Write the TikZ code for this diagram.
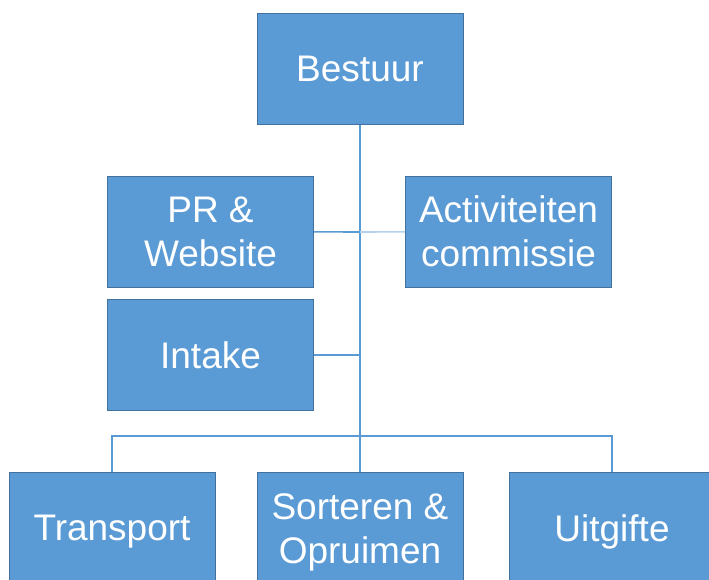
\documentclass[tikz,border=0pt]{standalone}
\usepackage{fontspec}
\setmainfont{Liberation Sans}
\usetikzlibrary{positioning}
\definecolor{boxblue}{HTML}{5B9BD5}
\definecolor{boxedge}{HTML}{41719C}
\definecolor{lightline}{HTML}{B4D0EC}

\begin{document}
\begin{tikzpicture}[x=1pt, y=-1pt,
    unit/.style={rectangle, draw=boxedge, fill=boxblue, line width=0.8pt,
        minimum width=206pt, minimum height=111pt, inner sep=0pt,
        text=white, align=center, font=\fontsize{37}{44}\selectfont},
    lowunit/.style={unit, minimum height=120pt},
    link/.style={draw=boxblue, line width=1.6pt},
    faintlink/.style={draw=lightline, line width=1.6pt}]
    \useasboundingbox (0,0) rectangle (709,579);
    \node[unit] (bestuur) at (360,69) {Bestuur};
    \node[unit] (pr) at (210.5,231.5) {PR \&\\Website};
    \node[unit] (act) at (508.5,231.5) {Activiteiten\\commissie};
    \node[unit] (intake) at (210.5,355) {Intake};
    \node[lowunit] (transport) at (112,532) {Transport};
    \node[lowunit] (sorteren) at (360,532) {Sorteren \&\\Opruimen};
    \node[lowunit] (uitgifte) at (612,532) {Uitgifte};
    \coordinate (prjoin) at (360,232);
    \coordinate (intakejoin) at (360,355);
    \coordinate (split) at (360,436);
    \draw[link] (bestuur) -- (split);
    \draw[link] (pr) -- (prjoin);
    \draw[faintlink] (prjoin) -- (act);
    \draw[link] (intake) -- (intakejoin);
    \draw[link] (split) -| (transport);
    \draw[link] (split) -- (sorteren);
    \draw[link] (split) -| (uitgifte);
\end{tikzpicture}
\end{document}
